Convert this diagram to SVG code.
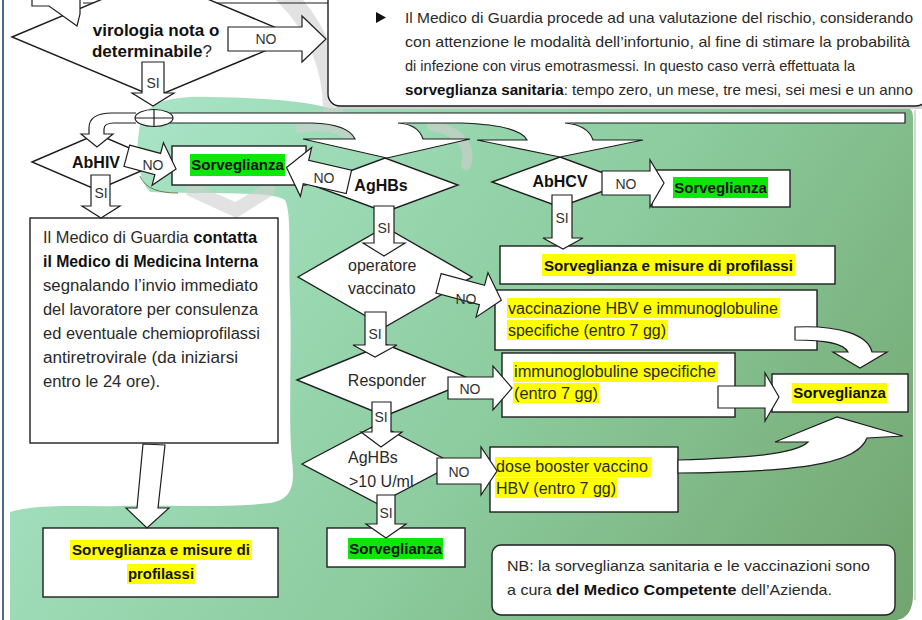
<svg xmlns="http://www.w3.org/2000/svg" width="922" height="620" viewBox="0 0 922 620">
<defs>
<linearGradient id="gg" gradientUnits="userSpaceOnUse" x1="150" y1="100" x2="900" y2="620">
<stop offset="0" stop-color="#a8e4c6"/>
<stop offset="0.5" stop-color="#8ccc9e"/>
<stop offset="1" stop-color="#72a56f"/>
</linearGradient>
<style>
.bx{fill:#fff;stroke:#1e1e1e;stroke-width:1.4}
.ar{fill:#fff;stroke:#1e1e1e;stroke-width:1.2;stroke-linejoin:miter}
.ln{fill:none;stroke:#1e1e1e;stroke-width:1.2}
text{font-family:"Liberation Sans",Arial,sans-serif;fill:#2a2a2a}
.t16{font-size:16px}
.t14{font-size:14.5px}
.b{font-weight:bold;fill:#111}
.bs{font-weight:bold;font-size:15px;fill:#111;text-anchor:middle}
.lb{font-size:14px;text-anchor:middle;fill:#333}
.c{text-anchor:middle}
.hg{fill:#0be60b}
.hy{fill:#ffff00}
.wm{fill:none;stroke:#cfcfcf;stroke-linecap:round;opacity:0.6}
</style>
</defs>
<rect x="0" y="0" width="922" height="620" fill="#fff"/>
<path d="M 10,620 L 10,512 C 40,503 80,507 120,506 C 170,505 230,508 270,503 C 292,500 295,485 292,460 C 288,420 292,360 290,300 C 288,250 292,215 285,200 C 270,190 200,195 150,192 C 138,180 135,150 140,125 C 145,100 175,96 210,97 C 260,98 300,100 330,108 L 905,108 C 912,108 913,112 913,118 L 913,595 C 913,612 905,620 895,620 Z" fill="url(#gg)"/>
<path d="M 140,176 C 145,189 160,193 178,193" fill="none" stroke="#6b7b50" stroke-width="1"/>
<g id="watermark">
<path class="wm" d="M 285,-5 C 315,25 333,65 333,110" stroke-width="20"/>
<path class="wm" d="M 192,190 L 236,210 L 268,190" stroke-width="14"/>
<path class="wm" d="M 300,128 C 325,124 345,128 352,140" stroke-width="10"/>
<path class="wm" d="M 432,126 C 458,130 472,145 466,165" stroke-width="10"/>
</g>
<line x1="3" y1="0" x2="3" y2="620" stroke="#4f6a8f" stroke-width="2"/>
<line x1="915" y1="110" x2="915" y2="600" stroke="#c9c9c9" stroke-width="1.5"/>
<line x1="83" y1="3" x2="330" y2="3" stroke="#1e1e1e" stroke-width="1.2"/>

<g id="info">
<rect x="331" y="-17" width="600" height="126" rx="12" fill="#cfcfcf"/>
<rect class="bx" x="328" y="-20" width="600" height="126" rx="12"/>
<polygon points="376,12 386,17.5 376,23" fill="#111"/>
<text class="t14" x="405" y="23" textLength="508" lengthAdjust="spacingAndGlyphs">Il Medico di Guardia procede ad una valutazione del rischio, considerando</text>
<text class="t14" x="405" y="47" textLength="505" lengthAdjust="spacingAndGlyphs">con attenzione le modalità dell’infortunio, al fine di stimare la probabilità</text>
<text class="t14" x="405" y="71" textLength="450" lengthAdjust="spacingAndGlyphs">di infezione con virus emotrasmessi. In questo caso verrà effettuata la</text>
<text class="t14" x="405" y="95" textLength="508" lengthAdjust="spacingAndGlyphs"><tspan class="b">sorveglianza sanitaria</tspan>: tempo zero, un mese, tre mesi, sei mesi e un anno</text>
</g>

<g id="virologia">
<polygon class="bx" points="12,37 155,-23 298,37 155,97"/>
<text class="b c" x="156" y="36" font-size="17">virologia nota o</text>
<text class="c" x="152" y="57" font-size="17"><tspan class="b">determinabile</tspan>?</text>
</g>

<g id="abhiv">
<polygon class="bx" points="32,162 97,134 162,162 97,190"/>
<text class="b c" x="96" y="168" font-size="16">AbHIV</text>
</g>

<g id="sorv1">
<rect class="bx" x="172" y="146" width="134" height="39"/>
<rect class="hg" x="190" y="154" width="95" height="22"/>
<text class="bs" x="237.5" y="170">Sorveglianza</text>
</g>

<g id="aghbs">
<polygon class="bx" points="312,185 385,158 458,185 385,212"/>
<text class="b c" x="381" y="191" font-size="16">AgHBs</text>
</g>

<g id="abhcv">
<polygon class="bx" points="492,182 560,157 628,182 560,207"/>
<text class="b c" x="560" y="187" font-size="16">AbHCV</text>
</g>

<g id="sorv2">
<rect class="bx" x="652" y="170" width="138" height="37"/>
<rect class="hg" x="673" y="177" width="95" height="21"/>
<text class="bs" x="720.5" y="193">Sorveglianza</text>
</g>

<g id="profil1">
<rect class="bx" x="500" y="246" width="335" height="38"/>
<rect class="hy" x="542" y="254" width="253" height="22"/>
<text class="bs" x="668.5" y="271" textLength="249" lengthAdjust="spacingAndGlyphs">Sorveglianza e misure di profilassi</text>
</g>

<g id="medint">
<rect class="bx" x="30" y="218" width="248" height="225"/>
<text class="t16" x="43" y="243" textLength="214" lengthAdjust="spacingAndGlyphs">Il Medico di Guardia <tspan class="b">contatta</tspan></text>
<text class="t16 b" x="43" y="267" textLength="215" lengthAdjust="spacingAndGlyphs">il Medico di Medicina Interna</text>
<text class="t16" x="43" y="291" textLength="215" lengthAdjust="spacingAndGlyphs">segnalando l’invio immediato</text>
<text class="t16" x="43" y="315" textLength="215" lengthAdjust="spacingAndGlyphs">del lavoratore per consulenza</text>
<text class="t16" x="43" y="339" textLength="217" lengthAdjust="spacingAndGlyphs">ed eventuale chemioprofilassi</text>
<text class="t16" x="43" y="363" textLength="195" lengthAdjust="spacingAndGlyphs">antiretrovirale (da iniziarsi</text>
<text class="t16" x="43" y="387" textLength="117" lengthAdjust="spacingAndGlyphs">entro le 24 ore).</text>
</g>

<g id="operatore">
<polygon class="bx" points="298,277 385,227 472,277 385,327"/>
<text class="t16" x="348" y="271" fill="#333">operatore</text>
<text class="t16" x="348" y="294" fill="#333">vaccinato</text>
</g>

<g id="vaccinazione">
<rect class="bx" x="495" y="290" width="322" height="60"/>
<rect class="hy" x="507" y="298" width="273" height="20"/>
<rect class="hy" x="507" y="320" width="161" height="20"/>
<text class="t16" x="508" y="314" textLength="270" lengthAdjust="spacingAndGlyphs">vaccinazione HBV e immunoglobuline</text>
<text class="t16" x="508" y="336" textLength="158" lengthAdjust="spacingAndGlyphs">specifiche (entro 7 gg)</text>
</g>

<g id="responder">
<polygon class="bx" points="297,380 385,344 473,380 385,416"/>
<text class="t16 c" x="387" y="386" fill="#333">Responder</text>
</g>

<g id="immuno">
<rect class="bx" x="502" y="353" width="233" height="64"/>
<rect class="hy" x="513" y="362" width="205" height="20"/>
<rect class="hy" x="513" y="383" width="86" height="20"/>
<text class="t16" x="514" y="377" textLength="202" lengthAdjust="spacingAndGlyphs">immunoglobuline specifiche</text>
<text class="t16" x="514" y="399" textLength="84" lengthAdjust="spacingAndGlyphs">(entro 7 gg)</text>
</g>

<g id="sorv3">
<rect class="bx" x="772" y="374" width="136" height="38"/>
<rect class="hy" x="792" y="383" width="95" height="20"/>
<text class="bs" x="839.5" y="398">Sorveglianza</text>
</g>

<g id="aghbs10">
<polygon class="bx" points="302,464 378,424 454,464 378,504"/>
<text class="t16" x="348" y="463" fill="#333">AgHBs</text>
<text class="t16" x="349" y="487" fill="#333">&gt;10 U/ml</text>
</g>

<g id="booster">
<rect class="bx" x="490" y="447" width="188" height="65"/>
<rect class="hy" x="495" y="457" width="156" height="20"/>
<rect class="hy" x="495" y="478" width="122" height="20"/>
<text class="t16" x="496" y="472" textLength="152" lengthAdjust="spacingAndGlyphs">dose booster vaccino</text>
<text class="t16" x="496" y="494" textLength="120" lengthAdjust="spacingAndGlyphs">HBV (entro 7 gg)</text>
</g>

<g id="sorv4">
<rect class="bx" x="327" y="528" width="138" height="39"/>
<rect class="hg" x="348" y="538" width="95" height="21"/>
<text class="bs" x="395.5" y="554">Sorveglianza</text>
</g>

<g id="profil2">
<rect class="bx" x="43" y="528" width="235" height="69"/>
<rect class="hy" x="70" y="540" width="182" height="20"/>
<rect class="hy" x="127" y="564" width="68" height="20"/>
<text class="bs" x="161" y="555" textLength="178" lengthAdjust="spacingAndGlyphs">Sorveglianza e misure di</text>
<text class="bs" x="161" y="579" textLength="66" lengthAdjust="spacingAndGlyphs">profilassi</text>
</g>

<g id="nb">
<rect class="bx" x="492" y="545" width="403" height="70" rx="9"/>
<text class="t14" x="507" y="571" textLength="363" lengthAdjust="spacingAndGlyphs">NB: la sorveglianza sanitaria e le vaccinazioni sono</text>
<text class="t14" x="507" y="595" textLength="325" lengthAdjust="spacingAndGlyphs">a cura <tspan class="b">del Medico Competente</tspan> dell’Azienda.</text>
</g>

<g id="connectors">
<path class="ar" d="M 32,-4 L 32,6 L 49,6 L 77,26 L 80,14 L 80,-4"/>
<polygon class="ar" points="228,27 302,27 302,16 326,39 302,62 302,51 228,51"/>
<text class="lb" x="266" y="44">NO</text>
<polygon class="ar" points="142,62 164,62 164,93 174,93 153,106 132,93 142,93"/>
<text class="lb" x="153" y="88" font-size="13">SI</text>
<rect x="170" y="113" width="735" height="10" fill="#fff"/>
<path class="ln" d="M 170,113 L 905,113 L 905,123 L 565,123 M 460,123 L 398,123 M 312,123 L 170,123"/>
<path d="M 312,122 Q 348,124 355,139 L 303,139 L 387,158 L 470,139 L 423,139 Q 418,124 398,122 Z" fill="#fff"/>
<path class="ln" d="M 312,123 Q 348,124 355,139 L 303,139 L 387,158 L 470,139 L 423,139 Q 418,124 398,123"/>
<path d="M 460,122 Q 520,125 527,140 L 477,140 L 560,157 L 643,140 L 593,140 Q 588,125 565,122 Z" fill="#fff"/>
<path class="ln" d="M 460,123 Q 520,125 527,140 L 477,140 L 560,157 L 643,140 L 593,140 Q 588,125 565,123"/>
<path class="ar" d="M 136,113 L 112,113 Q 89,113 89,128 L 89,134 L 81,134 L 97,147 L 113,134 L 104,134 L 104,129 Q 104,123 114,123 L 136,123"/>
<ellipse class="ar" cx="154" cy="118" rx="19" ry="8.5"/>
<path class="ln" d="M 154,109.5 L 154,126.5 M 135,118 L 173,118"/>
<polygon class="ar" points="91,175 110,175 110,206 120,206 101,218 82,206 91,206"/>
<text class="lb" x="101" y="198" font-size="13">SI</text>
<polygon class="ar" transform="translate(150,162) rotate(15)" points="-24,-11 8,-11 8,-22 27,0 8,22 8,11 -24,11"/>
<text class="lb" x="153" y="170">NO</text>
<polygon class="ar" transform="translate(306,172) rotate(13)" points="-20,0 0,-25 0,-12 44,-12 44,12 0,12 0,25"/>
<text class="lb" x="324" y="183">NO</text>
<polygon class="ar" points="374,206 394,206 394,243 405,243 384,256 363,243 374,243"/>
<text class="lb" x="384" y="233" font-size="13">SI</text>
<polygon class="ar" transform="translate(482,295) rotate(15)" points="-45,-10 0,-10 0,-23 20,0 0,23 0,10 -45,10"/>
<text class="lb" x="466" y="304">NO</text>
<polygon class="ar" points="365,312 386,312 386,345 397,345 375,357 353,345 365,345"/>
<text class="lb" x="375" y="339" font-size="13">SI</text>
<polygon class="ar" points="448,377 493,377 493,366 512,388 493,410 493,399 448,399"/>
<text class="lb" x="470" y="394">NO</text>
<polygon class="ar" points="372,402 391,402 391,432 402,432 381,447 361,432 372,432"/>
<text class="lb" x="381" y="422" font-size="13">SI</text>
<polygon class="ar" points="437,458 481,458 481,447 497,471 481,495 481,484 437,484"/>
<text class="lb" x="459" y="477">NO</text>
<polygon class="ar" points="377,495 395,495 395,524 406,524 386,538 366,524 377,524"/>
<text class="lb" x="386" y="518" font-size="13">SI</text>
<polygon class="ar" points="602,171 650,171 650,160 664,183 650,207 650,195 602,195"/>
<text class="lb" x="626" y="189">NO</text>
<polygon class="ar" points="552,195 572,195 572,238 583,238 563,249 543,238 552,238"/>
<text class="lb" x="562" y="223" font-size="13">SI</text>
<path class="ar" d="M 795,327 C 840,325 868,335 872,352 L 887,352 L 860,368 L 833,352 L 848,352 C 843,343 825,340 795,340 Z"/>
<polygon class="ar" points="718,386 765,386 765,373 779,397 765,421 765,408 718,408"/>
<path class="ar" d="M 678,460 C 740,458 795,455 808,442 L 775,442 L 837,417 L 903,436 L 867,438 C 858,460 820,472 678,473 Z"/>
<polygon class="ar" points="143,444 165,445 158,508 169,508 147,528 126,508 137,508"/>
</g>
</svg>
